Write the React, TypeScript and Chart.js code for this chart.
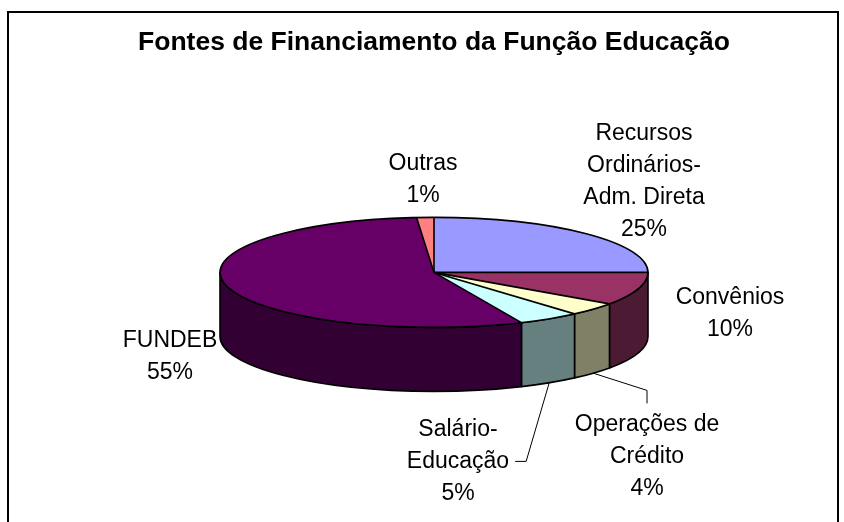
import React, { useEffect, useRef } from "react";
import { Chart, registerables } from "chart.js";

Chart.register(...registerables);

const titleText = "Fontes de Financiamento da Função Educação";
const categories: string[][] = [
  ["Recursos", "Ordinários-", "Adm. Direta"],
  ["Convênios"],
  ["Operações de", "Crédito"],
  ["Salário-", "Educação"],
  ["FUNDEB"],
  ["Outras"],
];
const values = [25.0, 9.7, 3.9, 4.7, 55.4, 1.3];
const percentLabels = values.map((v) => Math.round(v) + "%");
const topColors = ["#9999FF", "#993366", "#FFFFCC", "#CCFFFF", "#660066", "#FF8080"];
const sideColors = ["#4C4C80", "#4D1A33", "#808066", "#668080", "#330033", "#804040"];

// label block centers relative to pie centre (layout only)
const labelOffsets: [number, number][] = [
  [210, -93],
  [296, 39],
  [213, 182],
  [24, 187],
  [-264, 82],
  [-11, -95],
];
const leaderKinds = ["", "", "top", "side", "", ""];

const FONT = '"Liberation Sans", Arial, sans-serif';
const TILT = 55 / 214;
const DEPTH = 64;
const LINE_H = 32;
const LABEL_SIZE = 23;

const pie3d = {
  id: "pie3d",
  beforeDraw(chart: any) {
    const ctx = chart.ctx;
    ctx.save();
    ctx.fillStyle = "#fff";
    ctx.fillRect(0, 0, chart.width, chart.height);
    ctx.strokeStyle = "#000";
    ctx.lineWidth = 2;
    ctx.strokeRect(8, 12, 830, 530);
    ctx.restore();
  },
  beforeDatasetsDraw(chart: any) {
    const ctx = chart.ctx;
    const arcs = chart.getDatasetMeta(0).data as any[];
    const p0 = arcs[0].getProps(["x", "y", "outerRadius"], true);
    const cx = p0.x, cy = p0.y, rx = p0.outerRadius, ry = rx * TILT;
    ctx.save();
    ctx.lineWidth = 1.6;
    ctx.strokeStyle = "#000";
    ctx.lineJoin = "round";
    arcs.forEach((arc, i) => {
      const { startAngle, endAngle } = arc.getProps(["startAngle", "endAngle"], true);
      const a = Math.max(startAngle, 0);
      const b = Math.min(endAngle, Math.PI);
      if (b <= a + 1e-4) return;
      ctx.beginPath();
      ctx.ellipse(cx, cy, rx, ry, 0, a, b, false);
      ctx.ellipse(cx, cy + DEPTH, rx, ry, 0, b, a, true);
      ctx.closePath();
      ctx.fillStyle = sideColors[i];
      ctx.fill();
      ctx.stroke();
    });
    ctx.restore();
    ctx.save();
    ctx.translate(cx, cy);
    ctx.scale(1, TILT);
    ctx.translate(-cx, -cy);
  },
  afterDatasetsDraw(chart: any) {
    const ctx = chart.ctx;
    ctx.restore();
    const arcs = chart.getDatasetMeta(0).data as any[];
    const p0 = arcs[0].getProps(["x", "y", "outerRadius"], true);
    const cx = p0.x, cy = p0.y, rx = p0.outerRadius, ry = rx * TILT;
    ctx.save();
    ctx.lineWidth = 1.6;
    ctx.strokeStyle = "#000";
    ctx.lineJoin = "round";
    ctx.beginPath();
    ctx.ellipse(cx, cy, rx, ry, 0, 0, Math.PI * 2);
    ctx.stroke();
    arcs.forEach((arc) => {
      const { startAngle } = arc.getProps(["startAngle"], true);
      ctx.beginPath();
      ctx.moveTo(cx, cy);
      ctx.lineTo(cx + rx * Math.cos(startAngle), cy + ry * Math.sin(startAngle));
      ctx.stroke();
    });
    // labels
    ctx.font = `${LABEL_SIZE}px ${FONT}`;
    ctx.fillStyle = "#000";
    ctx.textAlign = "center";
    ctx.textBaseline = "alphabetic";
    ctx.lineWidth = 1;
    arcs.forEach((arc, i) => {
      const { startAngle, endAngle } = arc.getProps(["startAngle", "endAngle"], true);
      const lines = [...categories[i], percentLabels[i]];
      const n = lines.length;
      const lx = cx + labelOffsets[i][0];
      const ly = cy + labelOffsets[i][1];
      const capCenter = (j: number) => ly + (j - (n - 1) / 2) * LINE_H;
      lines.forEach((t, j) => {
        ctx.fillText(t, lx, capCenter(j) + LABEL_SIZE * 0.358);
      });
      const mid = (startAngle + endAngle) / 2;
      const sx = cx + rx * Math.cos(mid);
      const sy = cy + ry * Math.sin(mid) + DEPTH;
      if (leaderKinds[i] === "side") {
        const j = n - 2;
        const w = ctx.measureText(lines[j]).width;
        const ex = lx + w / 2 + 6;
        const ey = capCenter(j) + 2;
        ctx.beginPath();
        ctx.moveTo(sx, sy);
        ctx.lineTo(ex + 11, ey);
        ctx.lineTo(ex, ey);
        ctx.stroke();
      } else if (leaderKinds[i] === "top") {
        const ey = capCenter(0) - 8 - 11;
        ctx.beginPath();
        ctx.moveTo(sx, sy);
        ctx.lineTo(lx, ey - 13);
        ctx.lineTo(lx, ey);
        ctx.stroke();
      }
    });
    ctx.restore();
  },
};

export default function App() {
  const ref = useRef<HTMLCanvasElement | null>(null);
  useEffect(() => {
    document.body.style.margin = "0";
    const canvas = ref.current;
    if (!canvas) return;
    const chart = new Chart(canvas, {
      type: "pie",
      data: {
        labels: categories.map((c) => c.join(" ")),
        datasets: [
          {
            data: values,
            backgroundColor: topColors,
            borderWidth: 0,
            clip: false,
          } as any,
        ],
      },
      plugins: [pie3d as any],
      options: {
        responsive: false,
        animation: false,
        events: [],
        radius: 214,
        layout: { padding: { top: 7, bottom: 36, left: 24, right: 0 } },
        plugins: {
          legend: { display: false },
          tooltip: { enabled: false },
          title: {
            display: true,
            text: titleText,
            color: "#000",
            font: { family: FONT, size: 26.5, weight: "bold", lineHeight: 1.2 },
            padding: { top: 20, bottom: 0 },
          },
        },
      } as any,
    });
    return () => chart.destroy();
  }, []);
  return (
    <div style={{ width: 844, height: 522 }}>
      <canvas ref={ref} width={844} height={522} style={{ display: "block" }} />
    </div>
  );
}
